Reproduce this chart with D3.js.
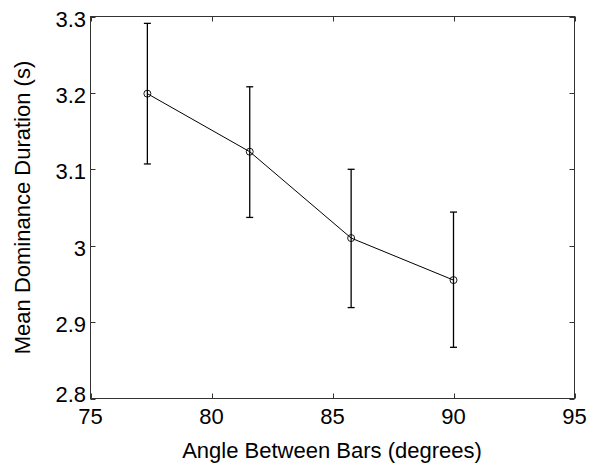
<!DOCTYPE html>
<html><head><meta charset="utf-8">
<script src="https://cdn.jsdelivr.net/npm/d3@7"></script>
<style>body{margin:0;background:#fff}svg text{font-family:"Liberation Sans",Arial,Helvetica,sans-serif}</style>
</head><body>
<script>
const angles = [77.35, 81.58, 85.77, 90.0];
const means = [3.199, 3.123, 3.010, 2.955];
const upper = [3.291, 3.208, 3.100, 3.044];
const lower = [3.107, 3.037, 2.919, 2.867];
const xTicks = [75, 80, 85, 90, 95];
const yTicks = [2.8, 2.9, 3.0, 3.1, 3.2, 3.3];
const yTickLabels = ["2.8", "2.9", "3", "3.1", "3.2", "3.3"];

const W = 589, H = 467;
const m = {l: 90.5, t: 16.5, r: 574.5, b: 398.5};
const svg = d3.select("body").append("svg").attr("width", W).attr("height", H);
const x = d3.scaleLinear().domain([75, 95]).range([m.l, m.r]);
const y = d3.scaleLinear().domain([2.8, 3.3]).range([m.b, m.t]);
const axisCol = "#333";
const fs = 22;

// box
svg.append("rect").attr("x", m.l).attr("y", m.t).attr("width", m.r - m.l).attr("height", m.b - m.t)
  .attr("fill", "none").attr("stroke", axisCol).attr("stroke-width", 1);

// ticks inward
const tl = 5;
xTicks.forEach(t => {
  const px = Math.round(x(t)) + 0.5;
  svg.append("line").attr("x1", px).attr("x2", px).attr("y1", m.b).attr("y2", m.b - tl).attr("stroke", axisCol);
  svg.append("line").attr("x1", px).attr("x2", px).attr("y1", m.t).attr("y2", m.t + tl).attr("stroke", axisCol);
  svg.append("text").attr("x", x(t)).attr("y", 424).attr("text-anchor", "middle").attr("font-size", fs).attr("fill", "#000").text(t);
});
yTicks.forEach((t, i) => {
  const py = Math.round(y(t)) + 0.5;
  svg.append("line").attr("x1", m.l).attr("x2", m.l + tl).attr("y1", py).attr("y2", py).attr("stroke", axisCol);
  svg.append("line").attr("x1", m.r).attr("x2", m.r - tl).attr("y1", py).attr("y2", py).attr("stroke", axisCol);
  const off = i === 0 ? 3 : 10;
  svg.append("text").attr("x", 86).attr("y", y(t) + off).attr("text-anchor", "end").attr("font-size", fs).attr("fill", "#000").text(yTickLabels[i]);
});

// line
const pts = angles.map((a, i) => [a, means[i]]);
svg.append("path").datum(pts)
  .attr("d", d3.line().x(d => x(d[0])).y(d => y(d[1])))
  .attr("fill", "none").attr("stroke", "#000").attr("stroke-width", 1);

// error bars
const cw = 3.5;
angles.forEach((a, i) => {
  const px = x(a);
  const g = svg.append("g").attr("stroke", "#000").attr("stroke-width", 1.3);
  g.append("line").attr("x1", px).attr("x2", px).attr("y1", y(upper[i])).attr("y2", y(lower[i]));
  g.append("line").attr("x1", px - cw).attr("x2", px + cw).attr("y1", y(upper[i])).attr("y2", y(upper[i]));
  g.append("line").attr("x1", px - cw).attr("x2", px + cw).attr("y1", y(lower[i])).attr("y2", y(lower[i]));
  svg.append("circle").attr("cx", px).attr("cy", y(means[i])).attr("r", 3.5)
    .attr("fill", "none").attr("stroke", "#000").attr("stroke-width", 0.9);
});

// labels
svg.append("text").attr("x", 332).attr("y", 458).attr("text-anchor", "middle").attr("font-size", fs).attr("fill", "#000")
  .text("Angle Between Bars (degrees)");
svg.append("text").attr("transform", "translate(30,207.5) rotate(-90)").attr("text-anchor", "middle").attr("font-size", fs).attr("fill", "#000")
  .text("Mean Dominance Duration (s)");
</script>
</body></html>
